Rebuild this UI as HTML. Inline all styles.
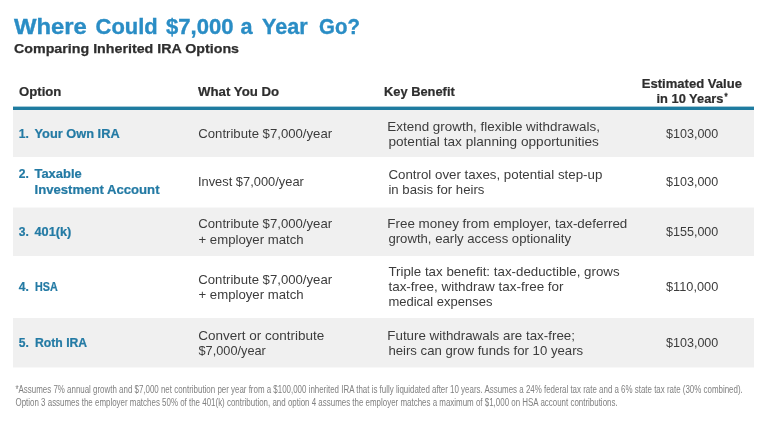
<!DOCTYPE html>
<html lang="en">
<head>
<meta charset="utf-8">
<title>Where Could $7,000 a Year Go? Comparing Inherited IRA Options</title>
<style>
html,body{margin:0;padding:0;background:#fff;}
body{width:768px;height:425px;position:relative;overflow:hidden;font-family:"Liberation Sans",sans-serif;}
.t{position:absolute;left:0;top:0;white-space:nowrap;line-height:normal;transform-origin:0 0;margin:0;padding:0;display:block;}
.row{position:absolute;margin:0;padding:0;}
.alt{background:#f0f0f0;}
.half{background:#f8f8f8;}
.rule{position:absolute;left:13px;width:741px;top:106px;height:4px;background:linear-gradient(to bottom,#a5cad8 0,#a5cad8 1px,#1f7ca0 1px,#1f7ca0 4px);}
.ttl{font-size:22.5px;font-weight:700;color:#2a8dc5;-webkit-text-stroke:0.35px #2a8dc5;}
.sub{font-size:13.5px;font-weight:700;color:#2e2e2e;-webkit-text-stroke:0.25px #2e2e2e;}
.hd{font-size:12px;font-weight:700;color:#2e2e2e;-webkit-text-stroke:0.2px #2e2e2e;}
.ast{font-size:9.5px;font-weight:700;color:#2e2e2e;-webkit-text-stroke:0.3px #2e2e2e;}
.lbl{font-size:12px;font-weight:700;color:#237aa4;-webkit-text-stroke:0.2px #237aa4;}
.txt{font-size:12.25px;font-weight:400;color:#3c3c3c;}
.ft{font-size:10px;font-weight:400;color:#808080;}
</style>
</head>
<body>
<h1 class="row" style="left:0;top:0;width:768px;height:40px">
  <span class="t ttl" style="transform:translate(13.90px,14.00px) scaleX(1.0601)">Where</span>
  <span class="t ttl" style="transform:translate(95.60px,14.00px) scaleX(0.9748)">Could</span>
  <span class="t ttl" style="transform:translate(166.00px,14.00px) scaleX(0.9809)">$7,000</span>
  <span class="t ttl" style="transform:translate(240.60px,14.00px) scaleX(0.9615)">a</span>
  <span class="t ttl" style="transform:translate(262.00px,14.00px) scaleX(0.9583)">Year</span>
  <span class="t ttl" style="transform:translate(319.00px,14.00px) scaleX(0.9086)">Go?</span>
</h1>
<h2 class="t sub" style="transform:translate(14.00px,41.00px) scaleX(1.0551)">Comparing Inherited IRA Options</h2>
<div class="row half" style="left:13px;top:207px;width:741px;height:1px"></div>
<div class="row half" style="left:13px;top:367px;width:741px;height:1px"></div>
<div class="row head" style="left:13px;top:70px;width:741px;height:36px">
  <span class="t hd" style="transform:translate(6.00px,15.00px) scaleX(1.0959)">Option</span>
  <span class="t hd" style="transform:translate(185.00px,15.00px) scaleX(1.1030)">What You Do</span>
  <span class="t hd" style="transform:translate(371.00px,15.00px) scaleX(1.0716)">Key Benefit</span>
  <span class="t hd" style="transform:translate(628.75px,7.00px) scaleX(1.0881)">Estimated Value</span>
  <span class="t hd" style="transform:translate(643.50px,22.00px) scaleX(1.0708)">in 10 Years</span>
  <span class="t ast" style="transform:translate(711.50px,20.00px) scaleX(0.8250)">*</span>
</div>
<div class="rule"></div>
<div class="row alt" style="left:13px;top:110px;width:741px;height:47px">
  <span class="t lbl" style="transform:translate(5.75px,17.00px) scaleX(1.0079)">1.</span>
  <span class="t lbl" style="transform:translate(21.50px,17.00px) scaleX(1.0673)">Your Own IRA</span>
  <span class="t txt" style="transform:translate(185.25px,17.00px) scaleX(1.0739)">Contribute $7,000/year</span>
  <span class="t txt" style="transform:translate(374.30px,10.00px) scaleX(1.0958)">Extend growth, flexible withdrawals,</span>
  <span class="t txt" style="transform:translate(375.40px,25.00px) scaleX(1.1118)">potential tax planning opportunities</span>
  <span class="t txt" style="transform:translate(653.00px,17.00px) scaleX(1.0238)">$103,000</span>
</div>
<div class="row" style="left:13px;top:157px;width:741px;height:50px">
  <span class="t lbl" style="transform:translate(5.75px,10.00px) scaleX(1.0079)">2.</span>
  <span class="t lbl" style="transform:translate(21.50px,10.00px) scaleX(1.0765)">Taxable</span>
  <span class="t lbl" style="transform:translate(21.50px,26.00px) scaleX(1.0943)">Investment Account</span>
  <span class="t txt" style="transform:translate(184.95px,18.00px) scaleX(1.0506)">Invest $7,000/year</span>
  <span class="t txt" style="transform:translate(375.40px,11.00px) scaleX(1.0869)">Control over taxes, potential step-up</span>
  <span class="t txt" style="transform:translate(375.40px,26.00px) scaleX(1.0762)">in basis for heirs</span>
  <span class="t txt" style="transform:translate(653.00px,18.00px) scaleX(1.0238)">$103,000</span>
</div>
<div class="row alt" style="left:13px;top:208px;width:741px;height:48px">
  <span class="t lbl" style="transform:translate(5.75px,17.00px) scaleX(1.0079)">3.</span>
  <span class="t lbl" style="transform:translate(21.50px,17.00px) scaleX(1.0593)">401(k)</span>
  <span class="t txt" style="transform:translate(185.25px,9.00px) scaleX(1.0739)">Contribute $7,000/year</span>
  <span class="t txt" style="transform:translate(185.50px,25.00px) scaleX(1.0752)">+ employer match</span>
  <span class="t txt" style="transform:translate(374.31px,9.00px) scaleX(1.0947)">Free money from employer, tax-deferred</span>
  <span class="t txt" style="transform:translate(375.40px,24.00px) scaleX(1.0731)">growth, early access optionality</span>
  <span class="t txt" style="transform:translate(653.00px,17.00px) scaleX(1.0238)">$155,000</span>
</div>
<div class="row" style="left:13px;top:256px;width:741px;height:62px">
  <span class="t lbl" style="transform:translate(5.75px,24.00px) scaleX(1.0079)">4.</span>
  <span class="t lbl" style="transform:translate(22.00px,24.00px) scaleX(0.8960)">HSA</span>
  <span class="t txt" style="transform:translate(185.25px,17.00px) scaleX(1.0739)">Contribute $7,000/year</span>
  <span class="t txt" style="transform:translate(185.50px,32.00px) scaleX(1.0752)">+ employer match</span>
  <span class="t txt" style="transform:translate(375.40px,9.00px) scaleX(1.0873)">Triple tax benefit: tax-deductible, grows</span>
  <span class="t txt" style="transform:translate(375.40px,24.00px) scaleX(1.0997)">tax-free, withdraw tax-free for</span>
  <span class="t txt" style="transform:translate(375.40px,39.00px) scaleX(1.0605)">medical expenses</span>
  <span class="t txt" style="transform:translate(653.00px,24.00px) scaleX(1.0423)">$110,000</span>
</div>
<div class="row alt" style="left:13px;top:318px;width:741px;height:49px">
  <span class="t lbl" style="transform:translate(5.75px,18.00px) scaleX(1.0079)">5.</span>
  <span class="t lbl" style="transform:translate(22.00px,18.00px) scaleX(1.0163)">Roth IRA</span>
  <span class="t txt" style="transform:translate(185.25px,11.00px) scaleX(1.1019)">Convert or contribute</span>
  <span class="t txt" style="transform:translate(185.50px,26.00px) scaleX(1.0407)">$7,000/year</span>
  <span class="t txt" style="transform:translate(374.31px,11.00px) scaleX(1.0893)">Future withdrawals are tax-free;</span>
  <span class="t txt" style="transform:translate(375.40px,26.00px) scaleX(1.0752)">heirs can grow funds for 10 years</span>
  <span class="t txt" style="transform:translate(653.00px,18.00px) scaleX(1.0238)">$103,000</span>
</div>
<p class="row foot" style="left:13px;top:380px;width:741px;height:32px">
  <span class="t ft" style="transform:translate(2.50px,4.00px) scaleX(0.7929)">*Assumes 7% annual growth and $7,000 net contribution per year from a $100,000 inherited IRA that is fully liquidated after 10 years. Assumes a 24% federal tax rate and a 6% state tax rate (30% combined).</span>
  <span class="t ft" style="transform:translate(2.50px,17.00px) scaleX(0.7942)">Option 3 assumes the employer matches 50% of the 401(k) contribution, and option 4 assumes the employer matches a maximum of $1,000 on HSA account contributions.</span>
</p>
</body>
</html>
